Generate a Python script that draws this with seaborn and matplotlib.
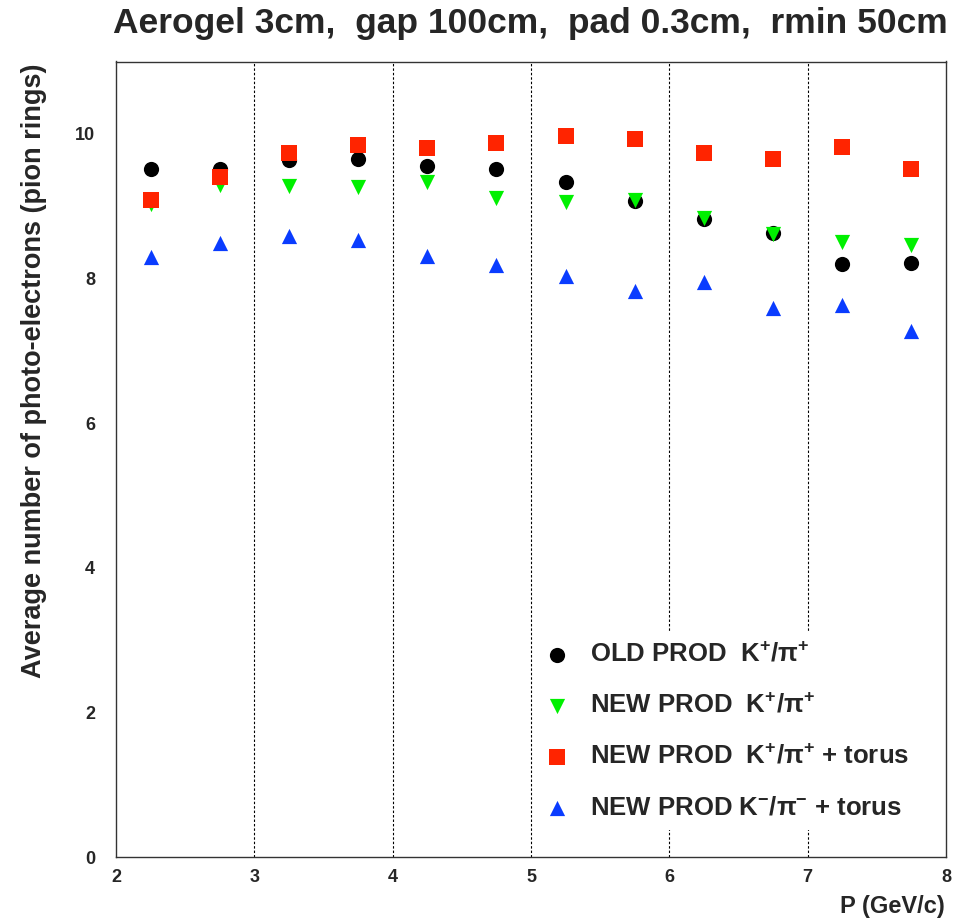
import matplotlib
matplotlib.use("Agg")
import matplotlib.pyplot as plt
import seaborn as sns
import numpy as np
import pandas as pd
from matplotlib.ticker import MultipleLocator

# ---- data ----
p_bins = [2.25, 2.75, 3.25, 3.75, 4.25, 4.75, 5.25, 5.75, 6.25, 6.75, 7.25, 7.75]
old_kp = [9.51, 9.52, 9.64, 9.65, 9.55, 9.52, 9.34, 9.07, 8.82, 8.63, 8.20, 8.21]
new_kp = [9.03, 9.29, 9.28, 9.27, 9.34, 9.11, 9.06, 9.09, 8.83, 8.62, 8.51, 8.46]
new_kp_torus = [9.09, 9.40, 9.73, 9.85, 9.81, 9.87, 9.97, 9.93, 9.74, 9.65, 9.82, 9.51]
new_km_torus = [8.30, 8.49, 8.59, 8.53, 8.31, 8.18, 8.03, 7.83, 7.95, 7.59, 7.63, 7.28]
divider_x = [3, 4, 5, 6, 7]

series_labels = [
    "OLD PROD  K$^{+}$/π$^{+}$",
    "NEW PROD  K$^{+}$/π$^{+}$",
    "NEW PROD  K$^{+}$/π$^{+}$ + torus",
    "NEW PROD K$^{-}$/π$^{-}$ + torus",
]
series_values = [old_kp, new_kp, new_kp_torus, new_km_torus]
series_markers = ["o", "v", "s", "^"]
series_colors = ["#000000", "#00F000", "#FF2400", "#0A3CFF"]

title_text = "Aerogel 3cm,  gap 100cm,  pad 0.3cm,  rmin 50cm"
xlabel_text = "P (GeV/c)"
ylabel_text = "Average number of photo-electrons (pion rings)"

# ---- style ----
sns.set_style("white")
plt.rcParams["font.family"] = ["Liberation Sans", "DejaVu Sans"]
plt.rcParams["font.weight"] = "bold"
plt.rcParams["mathtext.fontset"] = "custom"
plt.rcParams["mathtext.rm"] = "Liberation Sans:bold"
plt.rcParams["mathtext.bf"] = "Liberation Sans:bold"
plt.rcParams["mathtext.it"] = "Liberation Sans:bold:italic"

fig = plt.figure(figsize=(9.72, 9.24), dpi=100)
ax = fig.add_axes([116 / 972, 67 / 924, 830 / 972, 795.5 / 924])

df = pd.DataFrame({
    "P": np.tile(p_bins, len(series_labels)),
    "value": np.concatenate(series_values),
    "series": np.repeat(series_labels, len(p_bins)),
})

for lab, mk, col in zip(series_labels, series_markers, series_colors):
    sub = df[df["series"] == lab]
    sns.scatterplot(data=sub, x="P", y="value", marker=mk, color=col, s=120,
                    linewidth=0, label=lab, ax=ax, zorder=3)

for xv in divider_x:
    ax.axvline(xv, color="black", linestyle=(0, (2.2, 1.8)), linewidth=0.8, zorder=1)

ax.set_xlim(2, 8)
ax.set_ylim(0, 11)
ax.xaxis.set_major_locator(MultipleLocator(1))
ax.xaxis.set_minor_locator(MultipleLocator(0.2))
ax.yaxis.set_major_locator(MultipleLocator(2))
ax.yaxis.set_minor_locator(MultipleLocator(0.5))
ax.tick_params(axis="both", which="both", direction="in", top=False, right=False,
               color="#222222", width=1)
ax.tick_params(axis="x", which="major", length=13, pad=8.5, labelsize=13)
ax.tick_params(axis="x", which="minor", length=6)
ax.tick_params(axis="y", which="major", length=12, pad=15, labelsize=13)
ax.tick_params(axis="y", which="minor", length=6)
for lbl in ax.get_xticklabels() + ax.get_yticklabels():
    lbl.set_fontweight("bold")
for sp in ax.spines.values():
    sp.set_color("#333333")
    sp.set_linewidth(1.0)
    sp.set_visible(True)

ax.set_xlabel("")
ax.set_ylabel("")
fig.text(945 / 972, 1 - 906 / 924, xlabel_text, ha="right", va="center",
         fontsize=17, fontweight="bold")
fig.text(34 / 972, 1 - 371 / 924, ylabel_text, rotation=90, ha="center", va="center",
         fontsize=19.5, fontweight="bold")
fig.text(530 / 972, 1 - 24 / 924, title_text, ha="center", va="center",
         fontsize=25.5, fontweight="bold")

leg = ax.legend(loc="upper left", bbox_to_anchor=(0.488, 0.299), frameon=True,
                facecolor="white", edgecolor="none", framealpha=1.0,
                fontsize=18.5, labelspacing=1.04, handletextpad=0.8,
                borderpad=0.4, handlelength=1.0, markerscale=1.0)
for t in leg.get_texts():
    t.set_fontweight("bold")
leg.set_zorder(2.2)

fig.savefig("out.png", dpi=100)
